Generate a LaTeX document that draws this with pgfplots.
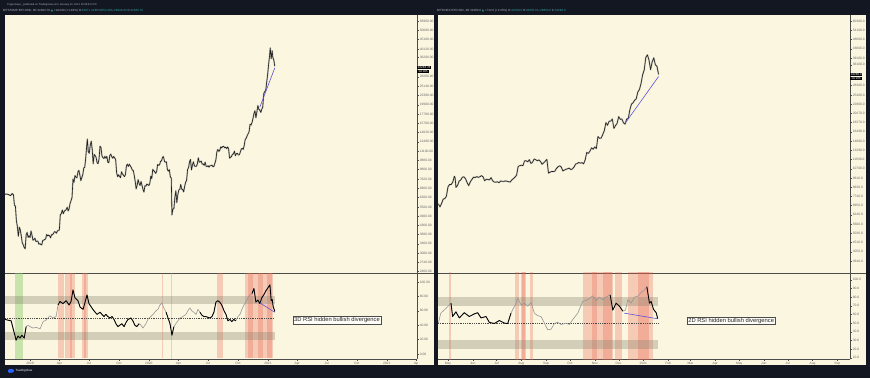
\documentclass[border=0pt]{standalone}
\usepackage{pgfplots}
\pgfplotsset{compat=1.18}
\usepackage{pgfplotstable}
\usepackage{fontspec}
\setmainfont{Liberation Sans}
\newfontfamily\symfont{DejaVu Sans}
\definecolor{tvdark}{RGB}{19,23,34}
\definecolor{cream}{RGB}{251,246,224}
\definecolor{tickc}{RGB}{105,105,105}
\definecolor{axl}{RGB}{75,75,75}
\definecolor{zone}{RGB}{130,125,105}
\definecolor{bred}{RGB}{232,105,85}
\definecolor{bgreen}{RGB}{140,205,110}
\definecolor{tealc}{RGB}{38,166,154}
\definecolor{divc}{RGB}{95,80,215}
\definecolor{topgray}{RGB}{178,181,190}
\definecolor{pricec}{RGB}{30,30,30}
\definecolor{rsigray}{RGB}{150,150,150}
\definecolor{tvblue}{RGB}{41,98,255}

\pgfplotstableread{
d p
-77 6450
-72 6470
-66 6420
-60 6340
-55 6510
-51 6400
-48 5620
-45 5560
-42 4620
-39 4300
-36 3800
-33 4260
-30 4120
-27 3820
-24 3510
-21 3420
-18 3300
-15 3250
-12 3870
-9 3990
-6 3750
-3 3830
0 3740
3 4060
6 3850
9 3620
12 3650
15 3710
18 3560
21 3570
24 3580
27 3440
30 3470
33 3430
36 3410
39 3610
42 3620
45 3650
48 3680
51 3890
54 3820
57 3860
60 3820
63 3730
66 3880
69 3870
72 3940
75 4030
78 4010
81 3950
84 4060
87 4100
90 4110
93 5000
96 5050
99 5290
102 5050
105 5200
108 5260
111 5320
114 5480
117 5230
120 5370
123 5750
126 5950
129 6200
132 7810
135 7500
138 8160
141 8000
144 7930
147 8530
150 8720
153 8220
156 7660
159 7940
162 8250
165 8980
168 9050
171 10150
174 11800
176 12920
179 11000
182 10800
185 11980
188 12580
191 11350
194 9460
197 10640
200 10500
203 10250
206 9570
209 9480
212 10070
215 11800
218 11590
221 10430
224 10220
227 10110
230 10400
233 10140
236 10390
239 9640
242 9600
245 10500
248 10690
251 10350
254 10150
257 10370
260 10170
263 10000
266 8450
269 8050
272 8240
275 8080
278 7950
281 8550
284 8320
287 8200
290 8050
293 8240
296 9200
299 9420
302 9150
305 9410
308 9210
311 9040
314 8750
317 8710
320 8210
323 7600
326 6900
329 7210
332 7750
335 7400
338 7200
341 7570
344 7200
347 6850
350 6630
353 7180
356 7140
359 7330
362 7280
365 7200
368 7390
371 8100
374 7850
377 8820
380 8680
383 8550
386 8380
389 8600
392 9380
395 9290
398 9340
401 9770
404 9810
407 10270
410 10350
413 9750
416 9650
419 9690
422 8780
425 8620
428 8790
431 8020
434 7900
436 4970
439 5360
442 5380
445 6200
448 6740
451 5800
454 6410
457 6800
460 6860
463 7300
466 6880
469 6850
472 6640
475 7120
478 7500
481 7670
484 8790
487 9010
490 9700
493 9990
496 8760
499 9320
502 9700
505 9220
508 9150
511 9170
514 9420
517 10200
520 9660
523 9700
526 9780
529 9420
532 9450
535 9280
538 9650
541 9170
544 9140
547 9230
550 9070
553 9240
556 9240
559 9300
562 9110
565 9160
568 9540
571 9940
574 11000
577 11330
580 11050
583 11210
586 11700
589 11560
592 11760
595 11780
598 11570
601 11660
604 11450
607 11690
610 11450
613 10170
616 10260
619 10380
622 10670
625 10720
628 11080
631 10470
634 10750
637 10780
640 10570
643 10600
646 10950
649 11380
652 11490
655 11340
658 11900
661 12830
664 13040
667 13450
670 13800
673 14150
676 15560
679 15400
682 15870
685 16730
688 17770
691 18450
694 16870
697 18170
700 19700
703 18790
706 18560
709 18050
712 18800
715 19280
718 22820
721 23480
724 23700
727 26270
730 28990
733 33000
736 36850
738 40630
741 35500
744 39200
746 36050
749 34900
752 32280
}\priceL

\pgfplotstableread{
d p
-12 7100
-10 6850
-8 7130
-6 7500
-4 7550
-2 7750
0 8650
2 8900
4 8900
6 9150
8 9800
9 9600
10 8600
12 8800
14 9270
16 9380
18 9700
20 9730
22 9520
24 9100
26 8790
28 9180
30 9440
32 9700
34 9650
36 9770
38 9670
40 9750
42 9870
44 9740
46 9300
48 9470
50 9440
52 9390
54 9650
56 9290
58 9160
60 9140
62 9190
64 9090
66 9270
68 9240
70 9230
72 9280
74 9250
76 9190
78 9160
80 9390
82 9530
84 9700
86 9930
88 11000
90 11100
92 11150
94 11100
96 11740
98 11750
100 11600
102 11900
104 11390
106 11550
108 12000
110 11900
112 11750
114 11860
116 11650
118 11280
120 11480
122 11700
124 11950
126 10170
128 10270
130 10380
132 10350
134 10400
136 10750
138 10950
140 11080
142 10920
144 10430
146 10540
148 10640
150 10700
152 10780
154 10600
156 10680
158 10920
160 11300
162 11380
164 11520
166 11420
168 11500
170 11330
172 11880
174 12960
176 12800
178 13150
180 13660
182 13450
184 13800
186 13550
188 15600
190 15290
192 15320
194 15960
196 16720
198 18370
200 17800
202 18660
204 18700
206 19160
208 17150
210 17730
212 18190
214 19700
216 19090
218 19160
220 18320
222 18030
224 19150
226 19270
228 21310
230 22800
232 23150
234 23870
236 24240
238 26270
240 27040
242 28990
244 32130
246 34000
248 39380
250 40600
252 38200
254 34100
256 37400
258 39200
260 36100
262 35500
264 32280
}\priceR

\pgfplotstableread{
d v
-77 48
-68 47
-58 46
-52 35
-46 25
-43 19
-37 25
-31 22
-25 26
-18 22
-12 38
-6 40
0 38
9 36
18 37
31 35
40 45
49 47
61 53
71 50
80 52
86 68
92 73
101 70
111 74
120 68
126 73
132 89
138 78
147 74
154 65
163 62
169 72
175 82
181 70
187 66
193 62
200 58
206 55
215 58
221 55
227 52
233 55
239 52
246 50
252 52
258 48
264 42
270 38
276 40
282 42
289 38
295 44
301 48
310 50
316 46
322 40
328 38
335 42
341 40
347 36
356 42
362 48
371 52
378 55
387 60
393 62
399 68
405 71
411 64
418 58
424 50
430 42
436 26
442 38
448 42
454 46
461 50
470 52
479 55
485 60
491 64
497 60
503 58
510 55
516 62
522 58
528 54
534 52
540 52
546 51
553 50
559 52
565 58
571 72
577 74
583 72
589 68
596 60
602 55
608 46
614 48
620 45
626 48
632 46
639 52
645 55
651 62
657 68
663 72
669 78
675 82
682 84
688 91
694 72
700 75
706 70
712 78
718 82
725 88
731 92
737 96
741 74
744 76
747 66
750 62
752 59
}\rsiL

\pgfplotstableread{
d v
-12 50
-9 61.5
-2.5 67
3.8 73
5.8 57.6
10 63
14.2 56
20.5 62
26.7 57.6
33 60.6
37.2 62
41.4 56
47.7 57.6
51.9 50.8
58.1 49.5
64.4 53
70.7 50
74.9 49.5
79 61.5
85.3 73
87.4 78.9
91.6 71
95.8 73
100 69.5
104.2 73.8
108.3 61.5
112.5 58.5
116.7 57.6
120.9 50
125 42.3
129.3 43
133.4 49.5
137.6 51
141.8 48.4
148.1 50
152.2 48.4
156.4 54
162.7 61.5
169 75
175.2 77
181.5 81.5
185.7 76
189.9 80
194 77
198.2 80
203.3 82.6
206.6 65
210.8 73
215 69.5
219.2 63.8
222.5 65
225.4 77
229.6 73
233.8 80
238 81
242.2 85.6
246.3 88
249.3 92
252.6 73
254.7 75
257.6 66
261 62
263 55
}\rsiR

\newcommand{\rb}[3][0.30]{\addplot[draw=none,fill=bred,fill opacity=#1,forget plot] coordinates {(#2,-5) (#3,-5) (#3,120) (#2,120)};}
\newcommand{\gb}[2]{\addplot[draw=none,fill=bgreen,fill opacity=0.45,forget plot] coordinates {(#1,-7) (#2,-7) (#2,112.5) (#1,112.5)};}

\pgfplotsset{
  tvax/.style={
    scale only axis, anchor=south west,
    axis x line*=bottom, axis y line*=right,
    axis line style={axl, line width=0.5pt, -},
    tick style={axl, line width=0.35pt},
    major tick length=1.8pt, tick align=outside,
    ticklabel style={font=\fontsize{3.3}{3.6}\selectfont, text=tickc, inner sep=0.8pt},
    clip mode=individual, unbounded coords=jump,
  },
  pricel/.style={pricec!55, line width=1.5pt, opacity=0.5, line join=round},
  pricek/.style={pricec, line width=0.6pt, line join=round},
  rsig/.style={rsigray, line width=0.6pt, line join=round},
  rsik/.style={black, line width=0.85pt, line join=round},
}

\begin{document}
\begin{tikzpicture}
\fill[tvdark] (0pt,0pt) rectangle (870pt,378pt);
\fill[cream] (5pt,13pt) rectangle (434pt,363pt);
\fill[cream] (438pt,13pt) rectangle (866pt,363pt);

% top texts
\node[anchor=west, text=topgray, font=\fontsize{2.6}{3}\selectfont, inner sep=0] at (7pt,373.5pt) {CryptoCapo\_ published on TradingView.com, January 22, 2021 10:08:23 UTC};
\node[anchor=west, text=topgray, font=\fontsize{3.0}{3.4}\selectfont, inner sep=0] at (3pt,367pt) {BITSTAMP:BTCUSD, 3D 32283.78 {\color{tealc}\symfont ▲} +184.00 (+1.49\%) O:\textcolor{tealc}{32071.40} H:\textcolor{tealc}{33654.29} L:\textcolor{tealc}{28846.82} C:\textcolor{tealc}{32283.78}};
\node[anchor=west, text=topgray, font=\fontsize{3.0}{3.4}\selectfont, inner sep=0] at (437pt,367pt) {BITFINEX:BTCUSD, 2D 32280.0 {\color{tealc}\symfont ▲} +712.0 (+2.25\%) O:\textcolor{tealc}{31568.0} H:\textcolor{tealc}{33850.0} L:\textcolor{tealc}{28850.0} C:\textcolor{tealc}{32280.0}};

% bottom logo
\fill[tvblue] (11pt,7.2pt) ellipse (3.2pt and 2pt);
\fill[tvblue] (9.5pt,6.5pt) circle (1.6pt);
\node[anchor=west, text=white, font=\fontsize{3.0}{3.4}\selectfont, inner sep=0] at (15.5pt,7pt) {TradingView};

%================ LEFT PRICE =================
\begin{axis}[tvax, at={(5pt,105pt)}, width=412pt, height=258pt,
  xmin=-77, xmax=1189, ymode=log, ymin=2395, ymax=61500,
  xtick=\empty,
  ytick={2460,2740,3080,3460,3880,4360,4900,5500,6200,6960,7820,8800,9880,11100,12480,14020,15760,17700,19900,22380,25140,28260,36200,40120,45100,50680,56960},
  yticklabels={2460.00,2740.00,3080.00,3460.00,3880.00,4360.00,4900.00,5500.00,6200.00,6960.00,7820.00,8800.00,9880.00,11100.00,12480.00,14020.00,15760.00,17700.00,19900.00,22380.00,25140.00,28260.00,36200.00,40120.00,45100.00,50680.00,56960.00},
  yticklabel style={anchor=west},
  after end axis/.code={\draw[axl,line width=0.5pt] (rel axis cs:1,0) -- ++(17pt,0pt);}]
\addplot[pricel] table[x=d,y=p] {\priceL};
\addplot[pricek] table[x=d,y=p] {\priceL};
\addplot[divc, line width=0.6pt] coordinates {(706,19300) (752,31600)};
\node[fill=black, text=white, anchor=south west, font=\fontsize{3.0}{3.2}\selectfont, inner sep=0.7pt] at (axis cs:1189,31000) {32283.78};
\node[fill=black, text=white, anchor=north west, font=\fontsize{3.0}{3.2}\selectfont, inner sep=0.7pt] at (axis cs:1189,31000) {\,1d 19h\,};
\end{axis}

%================ LEFT RSI =================
\begin{axis}[tvax, at={(5pt,19pt)}, width=412pt, height=86pt,
  xmin=-77, xmax=1189, ymin=-7, ymax=112.5,
  xtick={0,90,181,273,365,456,547,639,731,821,912,1004,1096,1186},
  xticklabels={2019,Apr,Jul,Oct,2020,Apr,Jul,Oct,2021,Apr,Jul,Oct,2022,Ap},
  ytick={0,20,40,60,80,100},
  yticklabels={0.00,20.00,40.00,60.00,80.00,100.00},
  yticklabel style={anchor=west}]
\gb{-46}{-21}
\gb{434}{437}
\rb{86}{104}
\rb{108}{138}
\rb[0.3]{123}{130}
\rb{160}{178}
\rb[0.3]{166}{172}
\rb{404}{407}
\rb{574}{593}
\rb{660}{746}
\rb[0.3]{669}{685}
\rb[0.3]{700}{715}
\rb[0.3]{727}{743}
\addplot[draw=none, fill=zone, fill opacity=0.33] coordinates {(-77,70) (752,70) (752,80) (-77,80)};
\addplot[draw=none, fill=zone, fill opacity=0.33] coordinates {(-77,20) (752,20) (752,30) (-77,30)};
\addplot[axl, line width=0.45pt, dash pattern=on 1pt off 0.8pt] coordinates {(-77,50) (752,50)};
\addplot[rsig] table[x=d,y=v] {\rsiL};
\addplot[rsik, restrict x to domain=-77:-12] table[x=d,y=v] {\rsiL};
\addplot[rsik, restrict x to domain=86:340] table[x=d,y=v] {\rsiL};
\addplot[rsik, restrict x to domain=418:442] table[x=d,y=v] {\rsiL};
\addplot[rsik, restrict x to domain=522:632] table[x=d,y=v] {\rsiL};
\addplot[rsik, restrict x to domain=682:752] table[x=d,y=v] {\rsiL};
\addplot[divc, line width=0.6pt] coordinates {(706,71) (752,58)};
\node[draw=axl, fill=white!75!cream, text=black!85, font=\fontsize{5.8}{6.5}\selectfont, inner sep=1pt, line width=0.4pt] at (axis cs:943,47) {3D RSI hidden bullish divergence};
\end{axis}

%================ RIGHT PRICE =================
\begin{axis}[tvax, at={(438pt,105pt)}, width=412pt, height=258pt,
  xmin=-12.5, xmax=504, ymode=log, ymin=3160, ymax=64700,
  xtick=\empty,
  ytick={3640,4050,4510,5030,5600,6240,6950,7740,8630,9610,10700,11930,13290,14800,16490,18370,20470,22800,25400,28300,36100,39100,43600,48600,54100,60300},
  yticklabels={3640.0,4050.0,4510.0,5030.0,5600.0,6240.0,6950.0,7740.0,8630.0,9610.0,10700.0,11930.0,13290.0,14800.0,16490.0,18370.0,20470.0,22800.0,25400.0,28300.0,36100.0,39100.0,43600.0,48600.0,54100.0,60300.0},
  yticklabel style={anchor=west},
  after end axis/.code={\draw[axl,line width=0.5pt] (rel axis cs:1,0) -- ++(16pt,0pt);}]
\addplot[pricel] table[x=d,y=p] {\priceR};
\addplot[pricek] table[x=d,y=p] {\priceR};
\addplot[divc, line width=0.6pt] coordinates {(222,18200) (264,31500)};
\node[fill=black, text=white, anchor=south west, font=\fontsize{3.0}{3.2}\selectfont, inner sep=0.7pt] at (axis cs:504,31500) {32280.0};
\node[fill=black, text=white, anchor=north west, font=\fontsize{3.0}{3.2}\selectfont, inner sep=0.7pt] at (axis cs:504,31500) {\,1d 13h\,};
\end{axis}

%================ RIGHT RSI =================
\begin{axis}[tvax, at={(438pt,19pt)}, width=412pt, height=86pt,
  xmin=-12.5, xmax=504, ymin=8.6, ymax=107.8,
  xtick={0,31,61,92,123,153,184,214,245,276,304,335,365,396,426,457,488},
  xticklabels={May,Jun,Jul,Aug,Sep,Oct,Nov,Dec,2021,Feb,Mar,Apr,May,Jun,Jul,Aug,Sep},
  ytick={10,20,30,40,50,60,70,80,90,100},
  yticklabels={10.0,20.0,30.0,40.0,50.0,60.0,70.0,80.0,90.0,100.0},
  yticklabel style={anchor=west}]
\rb{1.6}{3.4}
\rb{84}{89}
\rb{92}{98}
\rb[0.3]{93}{96}
\rb{103}{107}
\rb{169}{207}
\rb[0.3]{181}{187}
\rb[0.3]{194}{206}
\rb{210}{218}
\rb{226}{257}
\rb[0.3]{238}{252}
\addplot[draw=none, fill=zone, fill opacity=0.33] coordinates {(-12.5,70) (263,70) (263,80) (-12.5,80)};
\addplot[draw=none, fill=zone, fill opacity=0.33] coordinates {(-12.5,20) (263,20) (263,30) (-12.5,30)};
\addplot[axl, line width=0.45pt, dash pattern=on 1pt off 0.8pt] coordinates {(-12.5,50) (263,50)};
\addplot[rsig] table[x=d,y=v] {\rsiR};
\addplot[rsik, restrict x to domain=3:79] table[x=d,y=v] {\rsiR};
\addplot[rsik, restrict x to domain=203:220] table[x=d,y=v] {\rsiR};
\addplot[rsik, restrict x to domain=249:263] table[x=d,y=v] {\rsiR};
\addplot[divc, line width=0.6pt] coordinates {(221,61.5) (263,55)};
\node[draw=axl, fill=white!75!cream, text=black!85, font=\fontsize{5.8}{6.5}\selectfont, inner sep=1pt, line width=0.4pt] at (axis cs:355,52.6) {2D RSI hidden bullish divergence};
\end{axis}

\pgfresetboundingbox
\useasboundingbox (0pt,0pt) rectangle (870pt,378pt);
\end{tikzpicture}
\end{document}
